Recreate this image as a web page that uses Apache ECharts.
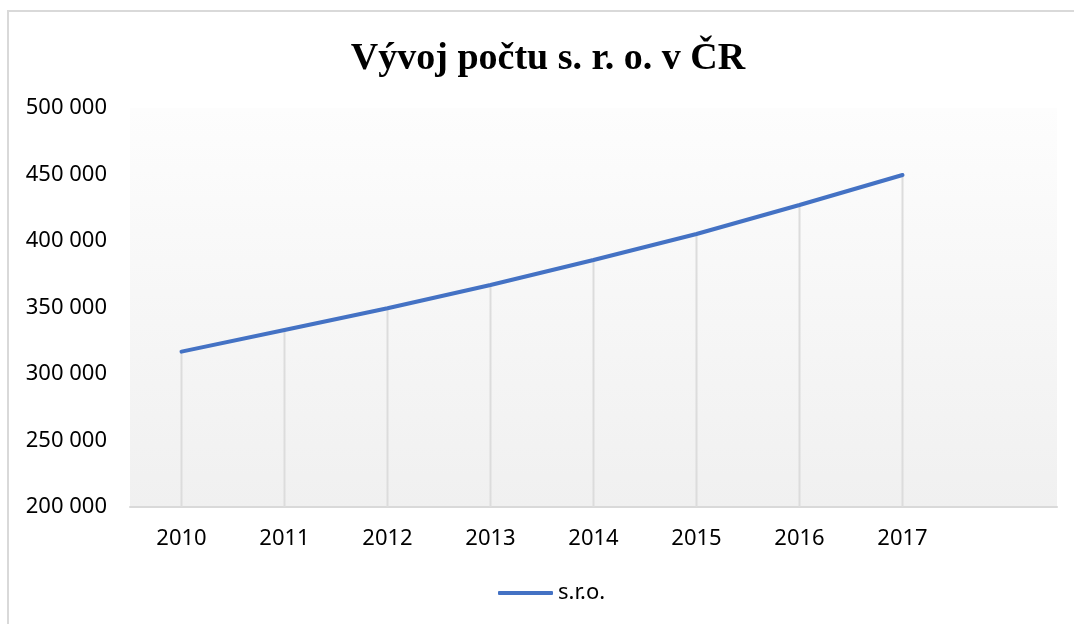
<!DOCTYPE html>
<html>
<head>
<meta charset="utf-8">
<script src="https://cdn.jsdelivr.net/npm/echarts@6/dist/echarts.min.js"></script>
<style>
  html, body { margin: 0; padding: 0; background: #fff; }
  #chart { width: 1074px; height: 624px; }
</style>
</head>
<body>
<div id="chart"></div>
<script>
// roky (poslední slot je prázdný, jako v Excelu)
const years = ['2010', '2011', '2012', '2013', '2014', '2015', '2016', '2017', '']
// počet s. r. o.
const sroCounts = [316800, 333100, 349400, 366900, 385700, 405300, 427100, 449600, null]
const seriesName = 's.r.o.'
const yMin = 200000
const yMax = 500000
const yStep = 50000

const labelFont = '"Noto Sans", sans-serif'

// formát 500 000
const fmt = v => String(v).replace(/\B(?=(\d{3})+(?!\d))/g, ' ')

const chart = echarts.init(document.getElementById('chart'), null, { renderer: 'canvas' })

chart.setOption({
    animation: false,
    title: {
        text: 'Vývoj počtu s. r. o. v ČR',
        left: 543,
        textAlign: 'center',
        top: 35,
        textStyle: {
            fontFamily: '"Liberation Serif", serif',
            fontWeight: 'bold',
            fontSize: 38,
            color: '#000'
        }
    },
    legend: {
        data: [seriesName],
        left: 493,
        top: 577,
        icon: 'roundRect',
        itemWidth: 55,
        itemHeight: 4,
        textStyle: { fontFamily: labelFont, fontSize: 22, color: '#000' }
    },
    graphic: [{
        type: 'rect',
        silent: true,
        shape: { x: 8, y: 11, width: 1200, height: 800 },
        style: { fill: 'none', stroke: '#d9d9d9', lineWidth: 2 }
    }],
    grid: {
        left: 130,
        right: 17,
        top: 108,
        bottom: 117,
        show: true,
        borderWidth: 0,
        backgroundColor: new echarts.graphic.LinearGradient(0, 0, 0, 1, [
            { offset: 0, color: '#fdfdfd' },
            { offset: 1, color: '#f0f0f0' }
        ])
    },
    xAxis: {
        type: 'category',
        data: years,
        boundaryGap: true,
        axisLine: { lineStyle: { color: '#d9d9d9', width: 2 } },
        axisTick: { show: false },
        axisLabel: { fontFamily: labelFont, fontSize: 22, color: '#000', margin: 21 }
    },
    yAxis: {
        type: 'value',
        min: yMin,
        max: yMax,
        interval: yStep,
        axisLine: { show: false },
        axisTick: { show: false },
        splitLine: { show: false },
        axisLabel: {
            fontFamily: labelFont, fontSize: 22, color: '#000', margin: 23,
            formatter: fmt
        }
    },
    series: [
        {
            // svislé spojnice k ose
            type: 'bar',
            name: 'drop',
            data: sroCounts,
            barWidth: 2,
            itemStyle: { color: '#dcdcdc' },
            silent: true
        },
        {
            type: 'line',
            name: seriesName,
            data: sroCounts,
            showSymbol: false,
            symbol: 'none',
            lineStyle: { color: '#4472c4', width: 4, cap: 'round' },
            itemStyle: { color: '#4472c4' }
        }
    ]
})
</script>
</body>
</html>
